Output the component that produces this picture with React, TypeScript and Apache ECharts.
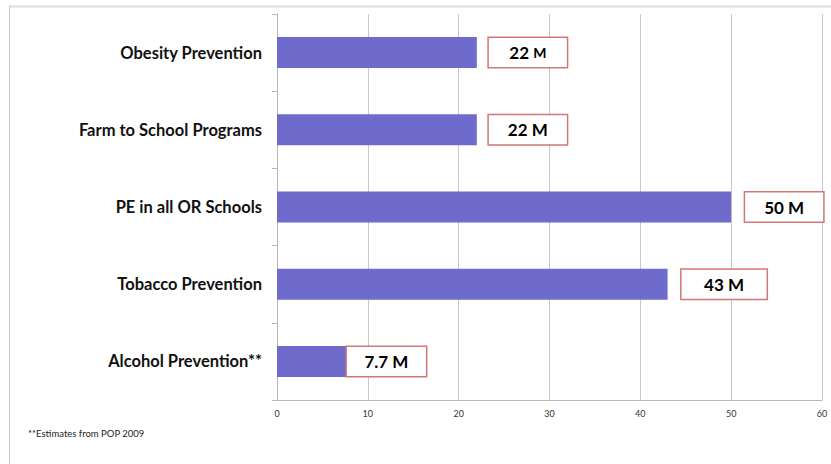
import React, { useEffect, useRef } from "react";
import * as echarts from "echarts";

const categories = [
  "Obesity Prevention",
  "Farm to School Programs",
  "PE in all OR Schools",
  "Tobacco Prevention",
  "Alcohol Prevention**",
];
const values = [22, 22, 50, 43, 7.7];
const valueLabels = ["22 M", "22 M", "50 M", "43 M", "7.7 M"];
const labelGaps = [12, 12, 14, 14, 0];
const labelWidths = [78, 78, 78, 85, 79];
const xTicks = { min: 0, max: 60, interval: 10 };
const footnote = "**Estimates from POP 2009";

export default function App() {
  const ref = useRef<HTMLDivElement>(null);
  useEffect(() => {
    if (!ref.current) return;
    const chart = echarts.init(ref.current, null, { renderer: "svg" });
    const font = "Lato";
    const tok = { fontSize: 17, fontWeight: "bold", color: "#000", fontFamily: font, align: "center" };
    chart.setOption({
      animation: false,
      backgroundColor: "#ffffff",
      grid: { left: 277, right: 9, top: 14, bottom: 64, containLabel: false },
      xAxis: {
        type: "value",
        min: xTicks.min,
        max: xTicks.max,
        interval: xTicks.interval,
        axisLine: { show: true, lineStyle: { color: "#b8b8b8", width: 1 } },
        axisTick: { show: false },
        splitLine: { show: true, lineStyle: { color: "#c8c8c8", width: 1 } },
        axisLabel: { fontSize: 9, color: "#333", fontFamily: font, margin: 9 },
      },
      yAxis: {
        type: "category",
        data: categories,
        inverse: true,
        axisLine: { show: true, lineStyle: { color: "#b8b8b8", width: 1 } },
        axisTick: { show: true, length: 5, lineStyle: { color: "#b8b8b8" } },
        axisLabel: {
          fontSize: 16.5,
          fontWeight: "bold",
          color: "#111",
          fontFamily: font,
          margin: 15,
        },
      },
      series: [
        {
          type: "bar",
          data: values.map((v, i) => ({
            value: v,
            label: {
              show: true,
              position: "right",
              distance: labelGaps[i],
              width: labelWidths[i],
              height: 29,
              align: "left",
              verticalAlign: "middle",
              lineHeight: 29,
              backgroundColor: "#ffffff",
              borderColor: "#d27676",
              borderWidth: 1.5,
              formatter: i === 0 ? "{a|22 }{b|M}" : "{a|" + valueLabels[i] + "}",
              fontSize: 17,
              fontWeight: "bold",
              color: "#000",
              fontFamily: font,
              rich: {
                a: { ...tok, lineHeight: 29 },
                b: { ...tok, fontSize: 14, lineHeight: 29 },
              },
            },
          })),
          barWidth: 31,
          itemStyle: { color: "#6f6bcc" },
        },
      ],
      graphic: [
        {
          type: "line",
          shape: { x1: 9, y1: 6.5, x2: 831, y2: 6.5 },
          style: { stroke: "#dddddd", lineWidth: 2 },
        },
        {
          type: "line",
          shape: { x1: 9.5, y1: 6, x2: 9.5, y2: 464 },
          style: { stroke: "#cccccc", lineWidth: 1 },
        },
        {
          type: "text",
          x: 28,
          y: 433,
          style: {
            text: footnote,
            fontSize: 9.5,
            fontFamily: font,
            fill: "#222",
            verticalAlign: "middle",
          },
        },
      ],
    });
    return () => chart.dispose();
  }, []);
  return (
    <div
      ref={ref}
      style={{ position: "fixed", left: 0, top: 0, width: 831, height: 464 }}
    />
  );
}
